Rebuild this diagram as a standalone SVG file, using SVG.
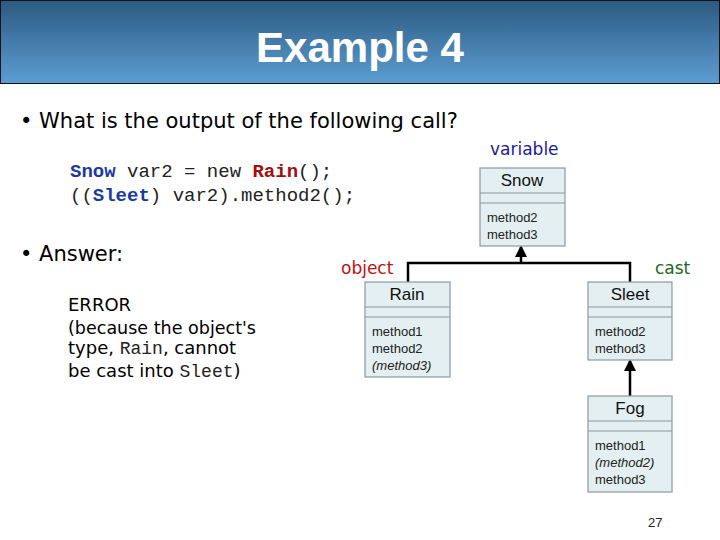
<svg xmlns="http://www.w3.org/2000/svg" width="720" height="540" viewBox="0 0 720 540">
<defs>
<linearGradient id="tg" x1="0" y1="0" x2="0" y2="1"><stop offset="0" stop-color="#2c5a80"/><stop offset="1" stop-color="#5c9dd2"/></linearGradient>
<marker id="ah" markerWidth="12" markerHeight="12" refX="10" refY="6" orient="auto" markerUnits="userSpaceOnUse" viewBox="0 0 12 12"><path d="M0,0 L12,6 L0,12 Z" fill="#000"/></marker>
<style>
.bx{fill:#e3eff0;stroke:#8a9aa4;stroke-width:1.2}
.hd{font-family:"Liberation Sans",Arial,sans-serif;font-size:17px;fill:#111;text-anchor:middle}
.m{font-family:"Liberation Sans",Arial,sans-serif;font-size:13px;fill:#222}
.t{font-family:"DejaVu Sans",Verdana,sans-serif}
.c{font-family:"Liberation Mono","Courier New",monospace;font-size:19px;fill:#222}
.ln{stroke:#000;stroke-width:2.5;fill:none}
</style>
</defs>
<rect width="720" height="540" fill="#fff"/>
<rect x="0.5" y="0.5" width="719" height="83" fill="url(#tg)" stroke="#111"/>
<text x="360" y="62" text-anchor="middle" font-family="'Liberation Sans',Arial,sans-serif" font-weight="bold" font-size="42" fill="#fff">Example 4</text>
<text class="t" x="20" y="128" font-size="21" fill="#000">• What is the output of the following call?</text>
<text class="c" x="70" y="177"><tspan fill="#1a3aa0" font-weight="bold">Snow</tspan> var2 = new <tspan fill="#a01010" font-weight="bold">Rain</tspan>();</text>
<text class="c" x="70" y="201">((<tspan fill="#1a3aa0" font-weight="bold">Sleet</tspan>) var2).method2();</text>
<text class="t" x="20" y="261" font-size="21" fill="#000">• Answer:</text>
<g class="t" font-size="18" fill="#000">
<text x="68" y="311">ERROR</text>
<text x="68" y="334" textLength="188" lengthAdjust="spacingAndGlyphs">(because the object's</text>
<text x="68" y="354">type, <tspan font-family="'Liberation Mono',monospace" fill="#222">Rain</tspan>, cannot</text>
<text x="68" y="377">be cast into <tspan font-family="'Liberation Mono',monospace" fill="#222">Sleet</tspan>)</text>
</g>
<text class="t" x="490" y="155" font-size="17" fill="#1a1aa0">variable</text>
<text class="t" x="341" y="274" font-size="17" fill="#c01010">object</text>
<text class="t" x="655" y="274" font-size="17" fill="#1a6a1a">cast</text>
<g id="connectors">
<path class="ln" d="M408,282 V263 H630 V282"/>
<path class="ln" d="M521,263 V247" marker-end="url(#ah)"/>
<path class="ln" d="M630,396 V361" marker-end="url(#ah)"/>
</g>
<g id="snow"><rect class="bx" x="480" y="168" width="85" height="78"/><line class="bx" x1="480" y1="193" x2="565" y2="193"/><line class="bx" x1="480" y1="203" x2="565" y2="203"/><text class="hd" x="522" y="186">Snow</text><text class="m" x="487" y="222">method2</text><text class="m" x="487" y="239">method3</text></g>
<g id="rain"><rect class="bx" x="365" y="282" width="85" height="95"/><line class="bx" x1="365" y1="307" x2="450" y2="307"/><line class="bx" x1="365" y1="317" x2="450" y2="317"/><text class="hd" x="407" y="300">Rain</text><text class="m" x="372" y="336">method1</text><text class="m" x="372" y="353">method2</text><text class="m" x="372" y="370" font-style="italic">(method3)</text></g>
<g id="sleet"><rect class="bx" x="588" y="282" width="84" height="78"/><line class="bx" x1="588" y1="307" x2="672" y2="307"/><line class="bx" x1="588" y1="317" x2="672" y2="317"/><text class="hd" x="630" y="300">Sleet</text><text class="m" x="595" y="336">method2</text><text class="m" x="595" y="353">method3</text></g>
<g id="fog"><rect class="bx" x="588" y="396" width="84" height="96"/><line class="bx" x1="588" y1="421" x2="672" y2="421"/><line class="bx" x1="588" y1="431" x2="672" y2="431"/><text class="hd" x="630" y="414">Fog</text><text class="m" x="595" y="450">method1</text><text class="m" x="595" y="467" font-style="italic">(method2)</text><text class="m" x="595" y="484">method3</text></g>
<text x="648" y="527" font-family="'Liberation Sans',Arial,sans-serif" font-size="13" fill="#222">27</text>
</svg>
